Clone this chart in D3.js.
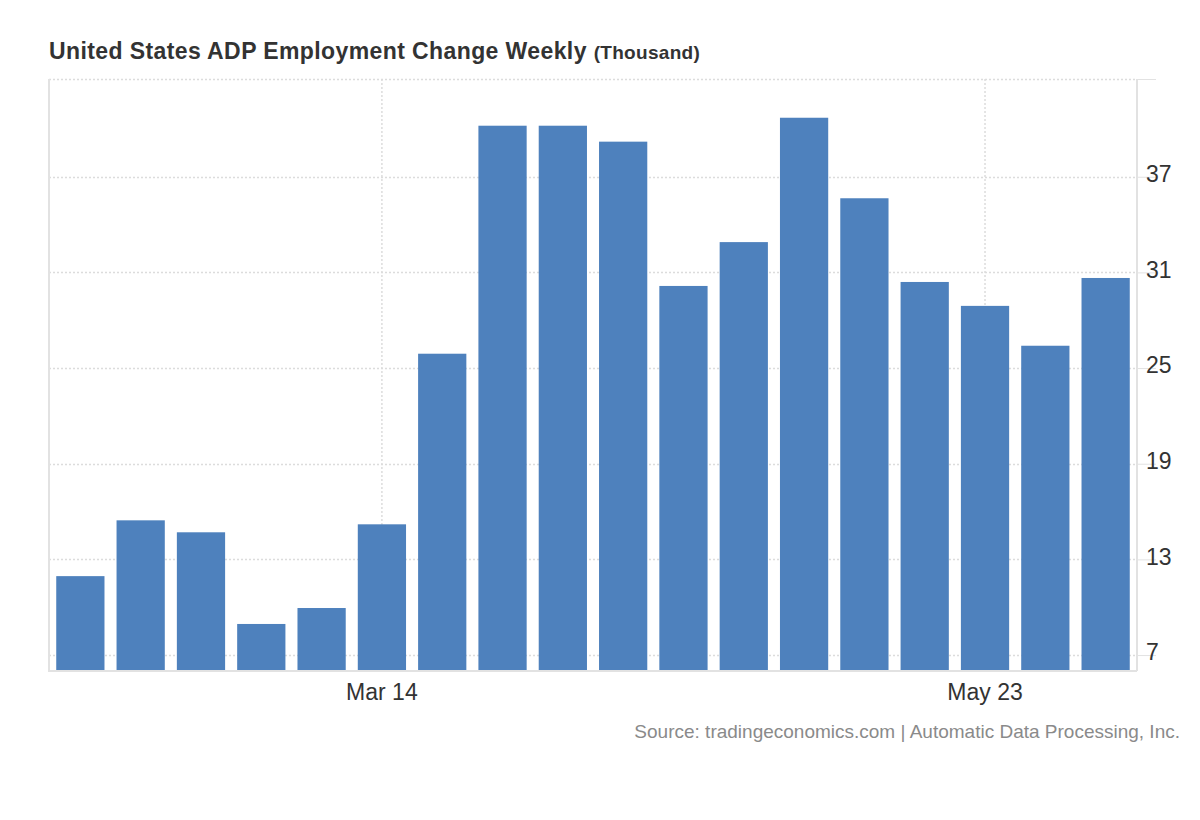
<!DOCTYPE html>
<html>
<head>
<meta charset="utf-8">
<script src="https://cdn.jsdelivr.net/npm/d3@7"></script>
<style>
  body { margin: 0; background: #fff; }
  text { font-family: "Liberation Sans", Arial, sans-serif; }
</style>
</head>
<body>
<svg></svg>
<script>
// weekly values (thousand)
var weeks = ["Feb 7", "Feb 14", "Feb 21", "Feb 28", "Mar 7", "Mar 14", "Mar 21", "Mar 28",
             "Apr 4", "Apr 11", "Apr 18", "Apr 25", "May 2", "May 9", "May 16", "May 23",
             "May 30", "Jun 6"];
var values = [11.95, 15.45, 14.7, 8.95, 9.95, 15.2, 25.9, 40.2, 40.2, 39.2,
              30.15, 32.9, 40.7, 35.65, 30.4, 28.9, 26.4, 30.65];
var yTicks = [7, 13, 19, 25, 31, 37];
var xLabels = ["Mar 14", "May 23"];

var config = {
  w: 1200,
  h: 820,
  left: 49,
  right: 1137,
  top: 79,
  bottom: 671
};

var svg = d3.select("svg")
  .attr("width", config.w)
  .attr("height", config.h);

// setup scales
var x = d3.scaleBand()
  .domain(weeks)
  .range([config.left, config.right])
  .paddingInner(0.2)
  .paddingOuter(0.12);

var y = d3.scaleLinear()
  .domain([6, 43.13])
  .range([config.bottom, config.top]);

// horizontal grid
svg.append("g").selectAll("line")
  .data(yTicks.concat([43.13]))
  .enter().append("line")
    .attr("x1", config.left)
    .attr("x2", config.right)
    .attr("y1", function(d) { return Math.round(y(d)) + 0.5; })
    .attr("y2", function(d) { return Math.round(y(d)) + 0.5; })
    .attr("stroke", "#dcdcdc")
    .attr("stroke-width", 1.5)
    .attr("stroke-dasharray", "2,2");

// vertical grid at labelled weeks
svg.append("g").selectAll("line")
  .data(xLabels)
  .enter().append("line")
    .attr("x1", function(d) { return x(d) + x.bandwidth() / 2; })
    .attr("x2", function(d) { return x(d) + x.bandwidth() / 2; })
    .attr("y1", config.top)
    .attr("y2", config.bottom)
    .attr("stroke", "#dcdcdc")
    .attr("stroke-width", 1.5)
    .attr("stroke-dasharray", "2,2");

// bars
svg.append("g").selectAll("rect")
  .data(values)
  .enter().append("rect")
    .attr("x", function(d, i) { return x(weeks[i]); })
    .attr("y", function(d) { return y(d); })
    .attr("width", x.bandwidth())
    .attr("height", function(d) { return config.bottom - 1 - y(d); })
    .attr("fill", "#4e81bd");

// frame lines
svg.append("line")
  .attr("x1", config.left).attr("x2", config.left)
  .attr("y1", config.top).attr("y2", config.bottom + 1)
  .attr("stroke", "#e2e2e2").attr("stroke-width", 2);
svg.append("line")
  .attr("x1", config.left).attr("x2", config.right)
  .attr("y1", config.bottom).attr("y2", config.bottom)
  .attr("stroke", "#e2e2e2").attr("stroke-width", 2);

// right y axis
var yAxis = d3.axisRight(y)
  .tickValues(yTicks.concat([43.13]))
  .tickSize(19)
  .tickPadding(-9)
  .tickFormat(function(d) { return yTicks.indexOf(d) >= 0 ? d : ""; });

var ya = svg.append("g")
  .attr("transform", "translate(" + config.right + ",0)")
  .call(yAxis);
ya.select(".domain")
  .attr("stroke", "#e2e2e2")
  .attr("stroke-width", 2)
  .attr("d", "M0," + config.top + "V" + config.bottom);
ya.selectAll(".tick line").attr("stroke", "#e2e2e2");
ya.selectAll(".tick text")
  .attr("x", 9)
  .attr("dy", "0.2em")
  .attr("fill", "#333")
  .style("font-size", "23px")
  .style("font-family", "'Liberation Sans', Arial, sans-serif");

// x labels
svg.append("g").selectAll("text")
  .data(xLabels)
  .enter().append("text")
    .attr("x", function(d) { return x(d) + x.bandwidth() / 2; })
    .attr("y", 700)
    .attr("text-anchor", "middle")
    .attr("fill", "#333")
    .style("font-size", "23px")
    .text(function(d) { return d; });

// title
var title = svg.append("text")
  .attr("x", 49)
  .attr("y", 59)
  .attr("fill", "#333")
  .style("font-weight", "bold")
  .style("font-size", "23px")
  .style("letter-spacing", "0.4px");
title.append("tspan").text("United States ADP Employment Change Weekly ");
title.append("tspan").style("font-size", "19px").style("letter-spacing", "0.3px").text("(Thousand)");

// source
svg.append("text")
  .attr("x", 1180)
  .attr("y", 738)
  .attr("text-anchor", "end")
  .attr("fill", "#8a8a8a")
  .style("font-size", "19px")
  .text("Source: tradingeconomics.com | Automatic Data Processing, Inc.");
</script>
</body>
</html>
